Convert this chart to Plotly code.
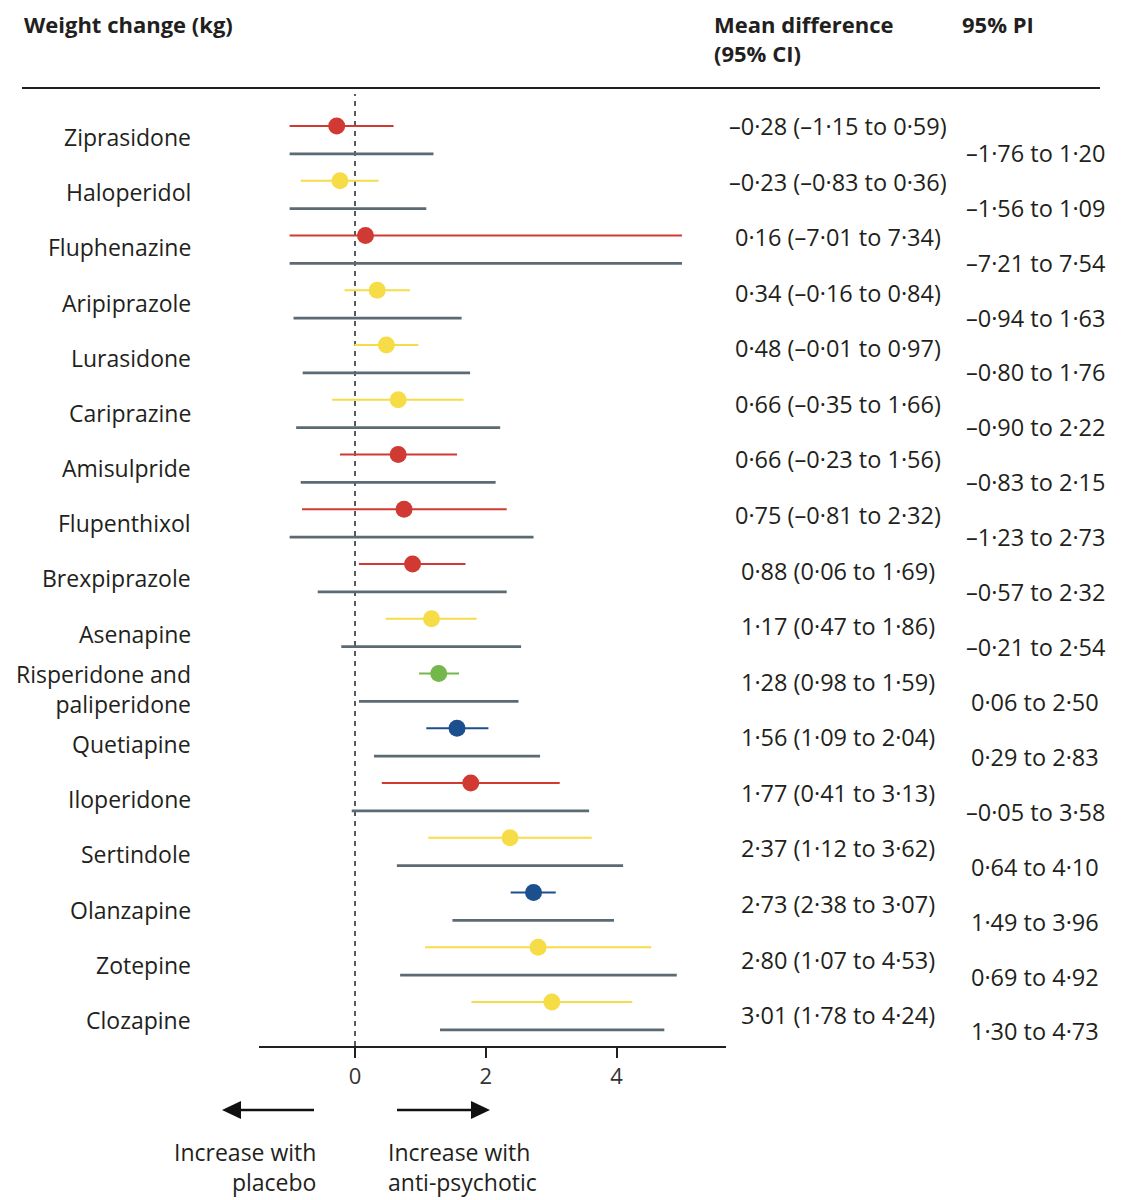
import numpy as np
import plotly.graph_objects as go

# ---------------- data ----------------
drugs = ["Ziprasidone", "Haloperidol", "Fluphenazine", "Aripiprazole", "Lurasidone",
         "Cariprazine", "Amisulpride", "Flupenthixol", "Brexpiprazole", "Asenapine",
         "Risperidone and<br>paliperidone", "Quetiapine", "Iloperidone", "Sertindole",
         "Olanzapine", "Zotepine", "Clozapine"]
mean_diff = [-0.28, -0.23, 0.16, 0.34, 0.48, 0.66, 0.66, 0.75, 0.88, 1.17,
             1.28, 1.56, 1.77, 2.37, 2.73, 2.80, 3.01]
ci_low = [-1.15, -0.83, -7.01, -0.16, -0.01, -0.35, -0.23, -0.81, 0.06, 0.47,
          0.98, 1.09, 0.41, 1.12, 2.38, 1.07, 1.78]
ci_high = [0.59, 0.36, 7.34, 0.84, 0.97, 1.66, 1.56, 2.32, 1.69, 1.86,
           1.59, 2.04, 3.13, 3.62, 3.07, 4.53, 4.24]
pi_low = [-1.76, -1.56, -7.21, -0.94, -0.80, -0.90, -0.83, -1.23, -0.57, -0.21,
          0.06, 0.29, -0.05, 0.64, 1.49, 0.69, 1.30]
pi_high = [1.20, 1.09, 7.54, 1.63, 1.76, 2.22, 2.15, 2.73, 2.32, 2.54,
           2.50, 2.83, 3.58, 4.10, 3.96, 4.92, 4.73]
grade = ["red", "yellow", "red", "yellow", "yellow", "yellow", "red", "red", "red", "yellow",
         "green", "blue", "red", "yellow", "blue", "yellow", "yellow"]
x_ticks = [0, 2, 4]

# ---------------- styling ----------------
OFF = 8                      # page body margin
W, H = 1133 - OFF, 1200 - OFF
FONT = "Open Sans"
TXT = "#231f20"
COLORS = {"red": "#d03a33", "yellow": "#f6dc46", "green": "#74b84c", "blue": "#1c4f8e"}
PI_COLOR = "#5c6a73"
CLIP_LO, CLIP_HI = -1.0, 5.0


def px(x):
    return (x - OFF) / W


def py(y):
    return 1 - (y - OFF) / H


def fmt(v):
    s = f"{abs(v):.2f}".replace(".", "\u00b7")
    return ("\u2013" if v < 0 else "") + s


fig = go.Figure()
n = len(drugs)
for i in range(n):
    c = COLORS[grade[i]]
    # prediction interval (grey)
    fig.add_trace(go.Scatter(
        x=[max(pi_low[i], CLIP_LO), min(pi_high[i], CLIP_HI)], y=[i + 0.51, i + 0.51],
        mode="lines", line=dict(color=PI_COLOR, width=2.6), hoverinfo="skip", showlegend=False))
    # confidence interval
    fig.add_trace(go.Scatter(
        x=[max(ci_low[i], CLIP_LO), min(ci_high[i], CLIP_HI)], y=[i, i],
        mode="lines", line=dict(color=c, width=2), hoverinfo="skip", showlegend=False))
    # point estimate
    fig.add_trace(go.Scatter(
        x=[mean_diff[i]], y=[i], mode="markers",
        marker=dict(color=c, size=17, line=dict(width=0)), hoverinfo="skip", showlegend=False))

LBL = dict(family=FONT, size=23, color=TXT)
VAL = dict(family=FONT, size=23.5, color=TXT)
ann = []
for i in range(n):
    ann.append(dict(x=px(193), y=i * 1.008 + 0.2, xref="paper", yref="y", text=drugs[i],
                    xanchor="right", yanchor="middle", align="right", showarrow=False,
                    font=LBL))
    ann.append(dict(x=px(838), y=i * 1.015, xref="paper", yref="y",
                    text=f"{fmt(mean_diff[i])} ({fmt(ci_low[i])} to {fmt(ci_high[i])})",
                    xanchor="center", yanchor="middle", showarrow=False, font=VAL))
    ann.append(dict(x=px(1035), y=i * 1.003 + 0.49, xref="paper", yref="y",
                    text=f"{fmt(pi_low[i])} to {fmt(pi_high[i])}",
                    xanchor="center", yanchor="middle", showarrow=False, font=VAL))

# headers
hdr = dict(family=FONT, size=22, color=TXT)
ann += [
    dict(x=px(23), y=py(8), xref="paper", yref="paper", text="<b>Weight change (kg)</b>",
         xanchor="left", yanchor="top", showarrow=False, font=hdr, borderpad=0),
    dict(x=px(713), y=py(8), xref="paper", yref="paper",
         text="<b>Mean difference</b><br><b>(95% CI)</b>", align="left",
         xanchor="left", yanchor="top", showarrow=False, font=hdr, borderpad=0),
    dict(x=px(961), y=py(8), xref="paper", yref="paper", text="<b>95% PI</b>",
         xanchor="left", yanchor="top", showarrow=False, font=hdr, borderpad=0),
    dict(x=px(318), y=py(1167), xref="paper", yref="paper", text="Increase with<br>placebo",
         align="right", xanchor="right", yanchor="middle", showarrow=False, font=LBL),
    dict(x=px(386), y=py(1167), xref="paper", yref="paper", text="Increase with<br>anti-psychotic",
         align="left", xanchor="left", yanchor="middle", showarrow=False, font=LBL),
]

shapes = [
    # header rule
    dict(type="line", xref="paper", yref="paper", x0=px(22), x1=px(1100), y0=py(88), y1=py(88),
         line=dict(color="#231f20", width=2)),
    # null line
    dict(type="line", xref="x", yref="paper", x0=0, x1=0, y0=py(1046), y1=py(94),
         line=dict(color="#555c60", width=2, dash="5px,5px"), layer="below"),
    # arrows
    dict(type="line", xref="paper", yref="paper", x0=px(238), x1=px(314), y0=py(1110), y1=py(1110),
         line=dict(color="#111", width=2.5)),
    dict(type="path", xref="paper", yref="paper",
         path=f"M {px(222)} {py(1110)} L {px(241)} {py(1101)} L {px(241)} {py(1119)} Z",
         fillcolor="#111", line=dict(width=0)),
    dict(type="line", xref="paper", yref="paper", x0=px(397), x1=px(474), y0=py(1110), y1=py(1110),
         line=dict(color="#111", width=2.5)),
    dict(type="path", xref="paper", yref="paper",
         path=f"M {px(490)} {py(1110)} L {px(471)} {py(1101)} L {px(471)} {py(1119)} Z",
         fillcolor="#111", line=dict(width=0)),
]

row_px0, row_step = 126, 54.75
top_row = (88 - row_px0) / row_step
bot_row = (1046 - row_px0) / row_step

fig.update_layout(
    width=W, height=H, margin=dict(l=0, r=0, t=0, b=0),
    paper_bgcolor="white", plot_bgcolor="white",
    xaxis=dict(domain=[px(259), px(726)], range=[-1.468, 5.673], tickvals=x_ticks,
               ticktext=[str(t) for t in x_ticks], showgrid=False, zeroline=False,
               showline=True, linecolor="#231f20", linewidth=2,
               ticks="outside", ticklen=10, tickwidth=2, tickcolor="#231f20",
               tickfont=dict(family=FONT, size=22, color="#333"), fixedrange=True),
    yaxis=dict(domain=[py(1046), py(88)], range=[bot_row, top_row], visible=False,
               showgrid=False, zeroline=False, fixedrange=True),
    annotations=ann, shapes=shapes,
)

fig.write_html("out.html")
